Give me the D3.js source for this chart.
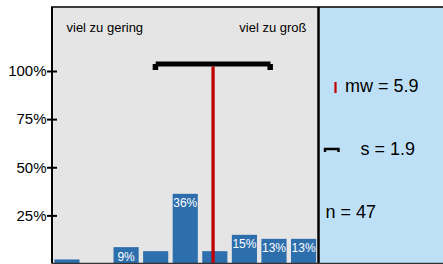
<!DOCTYPE html>
<html>
<head>
<meta charset="utf-8">
<script src="https://cdn.jsdelivr.net/npm/d3@7"></script>
<style>
  body { margin: 0; background: #fff; }
  svg { display: block; font-family: "Liberation Sans", Arial, sans-serif; }
</style>
</head>
<body>
<div id="chart"></div>
<script>
// scale positions 1..9, share of answers in percent (n = 47)
const categories = [1, 2, 3, 4, 5, 6, 7, 8, 9];
const shares = [2.1, 0, 8.5, 6.4, 36.2, 6.4, 14.9, 12.8, 12.8];
const barLabels = ["", "", "9%", "", "36%", "", "15%", "13%", "13%"];
const yTicks = [25, 50, 75, 100];
const poleLabels = ["viel zu gering", "viel zu groß"];
const mean = 5.94;
const sd = 1.94;
const stats = ["mw = 5.9", "s = 1.9", "n = 47"];

const W = 443, H = 264;
const plotL = 52, plotR = 318.5, plotT = 7, plotB = 263.5;

const svg = d3.select("#chart")
  .append("svg")
  .attr("width", W)
  .attr("height", H);

// backgrounds
svg.append("rect")
  .attr("x", plotL).attr("y", plotT)
  .attr("width", plotR - plotL).attr("height", plotB - plotT)
  .attr("fill", "#e5e5e5");

svg.append("rect")
  .attr("x", plotR).attr("y", plotT)
  .attr("width", W - plotR).attr("height", plotB - plotT)
  .attr("fill", "#bee0f6");

const x = d3.scaleBand()
  .domain(categories)
  .range([plotL, plotR])
  .paddingInner(0.15)
  .paddingOuter(0.08);

// continuous position on the scale (for mean / sd)
const xPos = d3.scaleLinear()
  .domain([1, 9])
  .range([x(1) + x.bandwidth() / 2, x(9) + x.bandwidth() / 2]);

const y = d3.scaleLinear()
  .domain([0, 100])
  .range([plotB, 71]);

// bars
svg.selectAll(".bar")
  .data(categories)
  .join("rect")
  .attr("class", "bar")
  .attr("x", d => x(d))
  .attr("y", (d, i) => y(shares[i]))
  .attr("width", x.bandwidth())
  .attr("height", (d, i) => plotB - y(shares[i]))
  .attr("fill", "#2d6ead");

svg.selectAll(".bar-label")
  .data(categories)
  .join("text")
  .attr("class", "bar-label")
  .attr("x", d => x(d) + x.bandwidth() / 2)
  .attr("y", (d, i) => y(shares[i]) + 13.5)
  .attr("text-anchor", "middle")
  .attr("font-size", 12)
  .attr("fill", "#fff")
  .text((d, i) => barLabels[i]);

// pole labels
svg.append("text")
  .attr("x", 66.5).attr("y", 32)
  .attr("font-size", 13)
  .text(poleLabels[0]);

svg.append("text")
  .attr("x", 306.5).attr("y", 32)
  .attr("text-anchor", "end")
  .attr("font-size", 13)
  .text(poleLabels[1]);

// standard deviation bracket
const by = 64;
const x0 = xPos(mean - sd), x1 = xPos(mean + sd);
svg.append("line")
  .attr("x1", x0).attr("x2", x1)
  .attr("y1", by).attr("y2", by)
  .attr("stroke", "#000")
  .attr("stroke-width", 5);
[x0, x1].forEach(cx => {
  svg.append("rect")
    .attr("x", cx - 3).attr("y", by)
    .attr("width", 5.5).attr("height", 6)
    .attr("fill", "#000");
});

// mean line
svg.append("line")
  .attr("x1", xPos(mean)).attr("x2", xPos(mean))
  .attr("y1", by + 2.5).attr("y2", plotB)
  .attr("stroke", "#c00000")
  .attr("stroke-width", 3.3);

// y axis
const yAxis = svg.append("g")
  .attr("transform", `translate(${plotL},0)`)
  .call(d3.axisLeft(y).tickValues(yTicks).tickFormat(d => d + "%").tickSize(5).tickPadding(0.5));
yAxis.select(".domain").remove();
yAxis.selectAll(".tick line")
  .attr("x1", 5)
  .attr("stroke", "#000")
  .attr("stroke-width", 2);
yAxis.selectAll(".tick text")
  .attr("font-size", 15)
  .attr("font-family", "Liberation Sans, Arial, sans-serif")
  .attr("fill", "#000");

// frame
svg.append("line")
  .attr("x1", plotL).attr("x2", plotL)
  .attr("y1", plotT).attr("y2", plotB)
  .attr("stroke", "#000").attr("stroke-width", 2);
svg.append("line")
  .attr("x1", plotL - 1).attr("x2", W)
  .attr("y1", plotT).attr("y2", plotT)
  .attr("stroke", "#000").attr("stroke-width", 1.5);
svg.append("line")
  .attr("x1", plotR).attr("x2", plotR)
  .attr("y1", plotT).attr("y2", plotB)
  .attr("stroke", "#000").attr("stroke-width", 2.5);
svg.append("line")
  .attr("x1", plotL).attr("x2", W)
  .attr("y1", plotB).attr("y2", plotB)
  .attr("stroke", "#333").attr("stroke-width", 1.5);

// statistics panel
svg.append("line")
  .attr("x1", 335.5).attr("x2", 335.5)
  .attr("y1", 82).attr("y2", 93)
  .attr("stroke", "#c00000")
  .attr("stroke-width", 2.2);

svg.append("path")
  .attr("d", "M325,152 V149 H338.5 V152")
  .attr("fill", "none")
  .attr("stroke", "#000")
  .attr("stroke-width", 2.4);

svg.append("text").attr("x", 345).attr("y", 91.5)
  .attr("font-size", 18).text(stats[0]);
svg.append("text").attr("x", 360.5).attr("y", 155)
  .attr("font-size", 18).text(stats[1]);
svg.append("text").attr("x", 325.5).attr("y", 218)
  .attr("font-size", 18).text(stats[2]);
</script>
</body>
</html>
